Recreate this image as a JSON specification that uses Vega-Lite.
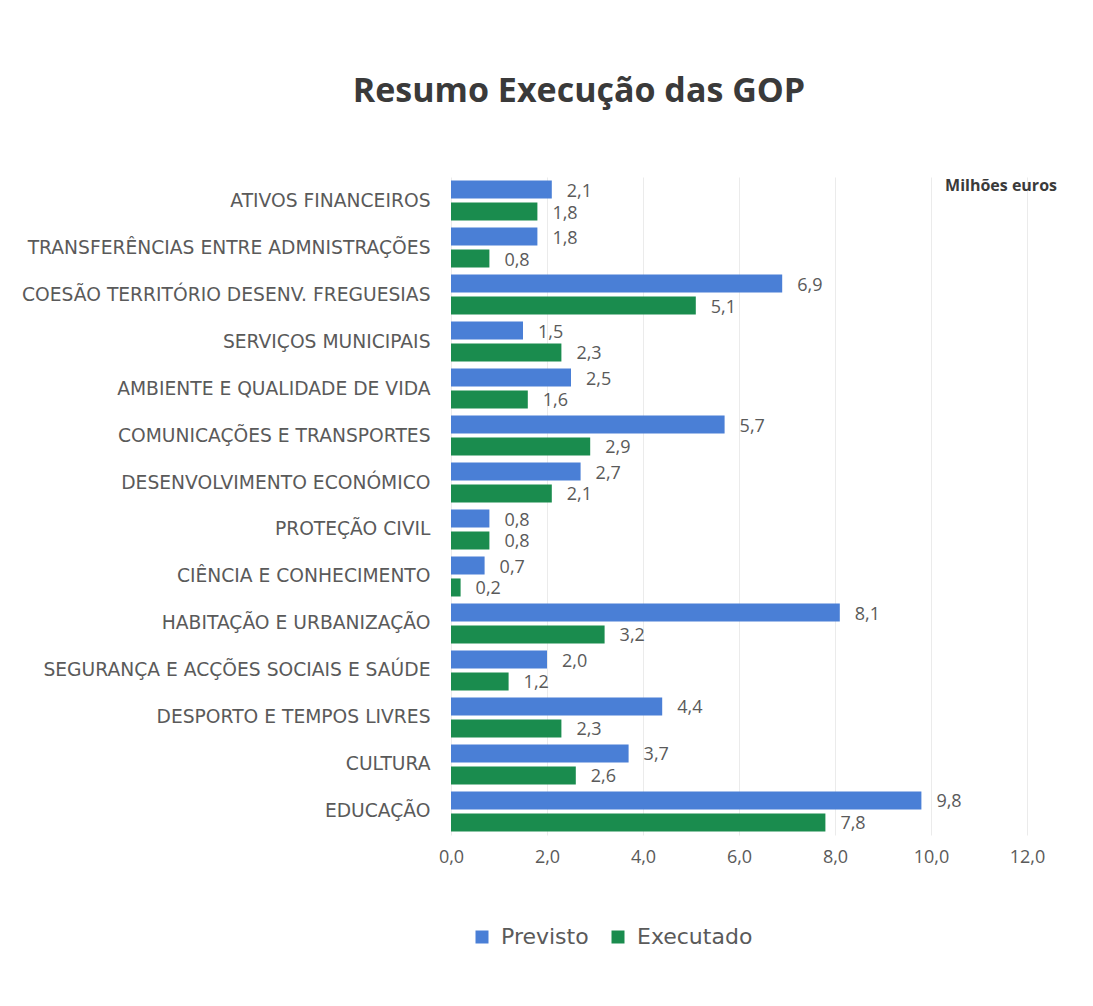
{
  "$schema": "https://vega.github.io/schema/vega-lite/v6.json",
  "autosize": {"type": "none"},
  "width": 576,
  "height": 658,
  "padding": {"left": 451, "top": 177, "right": 66, "bottom": 171},
  "background": "white",
  "config": {
    "locale": {"number": {"decimal": ",", "thousands": ".", "grouping": [3], "currency": ["", " €"]}},
    "font": "Open Sans",
    "view": {"stroke": null}
  },
  "title": {
    "text": "Resumo Execução das GOP",
    "font": "Open Sans",
    "fontSize": 34,
    "fontWeight": "bold",
    "color": "#3a3a3a",
    "anchor": "middle",
    "dx": -160,
    "offset": 68
  },
  "data": {
    "values": [
      {"cat": "ATIVOS FINANCEIROS", "serie": "Previsto", "valor": 2.1},
      {"cat": "ATIVOS FINANCEIROS", "serie": "Executado", "valor": 1.8},
      {"cat": "TRANSFERÊNCIAS ENTRE ADMNISTRAÇÕES", "serie": "Previsto", "valor": 1.8},
      {"cat": "TRANSFERÊNCIAS ENTRE ADMNISTRAÇÕES", "serie": "Executado", "valor": 0.8},
      {"cat": "COESÃO TERRITÓRIO DESENV. FREGUESIAS", "serie": "Previsto", "valor": 6.9},
      {"cat": "COESÃO TERRITÓRIO DESENV. FREGUESIAS", "serie": "Executado", "valor": 5.1},
      {"cat": "SERVIÇOS MUNICIPAIS", "serie": "Previsto", "valor": 1.5},
      {"cat": "SERVIÇOS MUNICIPAIS", "serie": "Executado", "valor": 2.3},
      {"cat": "AMBIENTE E QUALIDADE DE VIDA", "serie": "Previsto", "valor": 2.5},
      {"cat": "AMBIENTE E QUALIDADE DE VIDA", "serie": "Executado", "valor": 1.6},
      {"cat": "COMUNICAÇÕES E TRANSPORTES", "serie": "Previsto", "valor": 5.7},
      {"cat": "COMUNICAÇÕES E TRANSPORTES", "serie": "Executado", "valor": 2.9},
      {"cat": "DESENVOLVIMENTO ECONÓMICO", "serie": "Previsto", "valor": 2.7},
      {"cat": "DESENVOLVIMENTO ECONÓMICO", "serie": "Executado", "valor": 2.1},
      {"cat": "PROTEÇÃO CIVIL", "serie": "Previsto", "valor": 0.8},
      {"cat": "PROTEÇÃO CIVIL", "serie": "Executado", "valor": 0.8},
      {"cat": "CIÊNCIA E CONHECIMENTO", "serie": "Previsto", "valor": 0.7},
      {"cat": "CIÊNCIA E CONHECIMENTO", "serie": "Executado", "valor": 0.2},
      {"cat": "HABITAÇÃO E URBANIZAÇÃO", "serie": "Previsto", "valor": 8.1},
      {"cat": "HABITAÇÃO E URBANIZAÇÃO", "serie": "Executado", "valor": 3.2},
      {"cat": "SEGURANÇA E ACÇÕES SOCIAIS E SAÚDE", "serie": "Previsto", "valor": 2.0},
      {"cat": "SEGURANÇA E ACÇÕES SOCIAIS E SAÚDE", "serie": "Executado", "valor": 1.2},
      {"cat": "DESPORTO E TEMPOS LIVRES", "serie": "Previsto", "valor": 4.4},
      {"cat": "DESPORTO E TEMPOS LIVRES", "serie": "Executado", "valor": 2.3},
      {"cat": "CULTURA", "serie": "Previsto", "valor": 3.7},
      {"cat": "CULTURA", "serie": "Executado", "valor": 2.6},
      {"cat": "EDUCAÇÃO", "serie": "Previsto", "valor": 9.8},
      {"cat": "EDUCAÇÃO", "serie": "Executado", "valor": 7.8}
    ]
  },
  "encoding": {
    "y": {
      "field": "cat",
      "type": "nominal",
      "sort": null,
      "scale": {"paddingInner": 0.149, "paddingOuter": 0.075},
      "axis": {
        "title": null,
        "domain": false,
        "ticks": false,
        "labelFont": "DejaVu Sans",
        "labelFontSize": 18.7,
        "labelColor": "#5a5a5a",
        "labelPadding": 21,
        "labelLimit": 500
      }
    },
    "yOffset": {
      "field": "serie",
      "type": "nominal",
      "sort": ["Previsto", "Executado"],
      "scale": {"paddingInner": 0.18, "paddingOuter": 0}
    },
    "x": {
      "field": "valor",
      "type": "quantitative",
      "scale": {"domain": [0, 12], "nice": false},
      "axis": {
        "title": null,
        "values": [0, 2, 4, 6, 8, 10, 12],
        "format": ".1f",
        "domain": false,
        "ticks": false,
        "grid": true,
        "gridColor": "#ebebeb",
        "labelFlush": false,
        "labelFont": "Open Sans",
        "labelFontSize": 18,
        "labelColor": "#5a5a5a",
        "labelPadding": 13
      }
    }
  },
  "layer": [
    {
      "mark": {"type": "bar"},
      "encoding": {
        "color": {
          "field": "serie",
          "type": "nominal",
          "sort": ["Previsto", "Executado"],
          "scale": {"domain": ["Previsto", "Executado"], "range": ["#4a7fd6", "#1a8c4e"]},
          "legend": {
            "title": null,
            "orient": "none",
            "direction": "horizontal",
            "legendX": 20,
            "legendY": 749,
            "symbolType": "square",
            "symbolSize": 169,
            "symbolStrokeWidth": 0,
            "labelFont": "DejaVu Sans",
            "labelFontSize": 22,
            "labelColor": "#5a5a5a",
            "columnPadding": 18,
            "labelOffset": 8
          }
        }
      }
    },
    {
      "mark": {"type": "text", "align": "left", "baseline": "middle", "dx": 15, "dy": 2, "fontSize": 18, "color": "#5a5a5a", "font": "Open Sans"},
      "encoding": {
        "text": {"field": "valor", "type": "quantitative", "format": ".1f"}
      }
    },
    {
      "data": {"values": [{"t": "Milhões euros", "x": 12, "cat": "ATIVOS FINANCEIROS"}]},
      "mark": {"type": "text", "align": "right", "baseline": "middle", "dx": 30, "dy": -15, "fontSize": 16, "fontWeight": "bold", "color": "#3a3a3a", "font": "Open Sans"},
      "encoding": {
        "x": {"field": "x", "type": "quantitative"},
        "y": {"field": "cat", "type": "nominal", "sort": null},
        "yOffset": null,
        "text": {"field": "t"}
      }
    }
  ]
}
